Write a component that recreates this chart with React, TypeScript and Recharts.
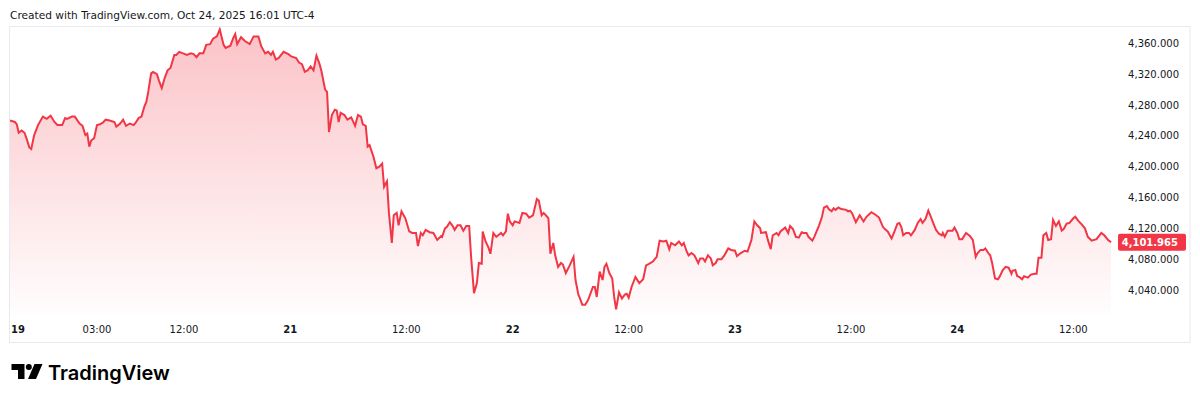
import React from 'react';
import { AreaChart, Area, XAxis, YAxis, ReferenceLine } from 'recharts';

// Trading time in hours since the Oct 19 18:00 session open (session gap collapsed)
const segAHours = [0, 0.5, 0.7, 0.9, 1.2, 1.5, 1.7, 2.0, 2.2, 2.5, 2.9, 3.4, 3.8, 4.2, 4.6, 4.9, 5.4, 5.7, 5.9, 6.4, 6.7, 7.2, 7.5, 7.8, 8.0, 8.2, 8.4, 8.7, 9.0, 9.3, 9.6, 9.9, 10.3, 10.8, 11.0, 11.4, 11.7, 12.0, 12.4, 12.8, 13.0, 13.3, 13.6, 13.9, 14.1, 14.3, 14.6, 14.8, 15.2, 15.4, 15.7, 16.0, 16.3, 16.6, 17.0, 17.2, 17.5, 17.9, 18.3, 18.7, 19.0, 19.3, 19.6, 20.0, 20.3, 20.7, 21.0, 21.4, 21.7];
const segAPrices = [4260, 4258, 4255, 4244, 4247, 4244, 4237, 4225, 4223, 4241, 4254, 4265, 4262, 4266, 4258, 4254, 4254, 4263, 4262, 4265, 4265, 4256, 4253, 4241, 4243, 4226, 4234, 4237, 4254, 4255, 4257, 4261, 4260, 4258, 4252, 4256, 4261, 4253, 4256, 4254, 4257, 4263, 4265, 4278, 4284, 4297, 4321, 4323, 4320, 4312, 4302, 4315, 4325, 4328, 4345, 4345, 4349, 4347, 4345, 4347, 4346, 4342, 4347, 4347, 4358, 4359, 4366, 4369, 4378];

const segBHours = [22.1, 22.3, 22.8, 23.1, 23.3, 23.5, 23.9, 24.3, 24.8, 25.2, 25.7, 26.0, 26.4, 26.7, 27.0, 27.2, 27.5, 27.8, 28.3, 28.8, 29.1, 29.6, 29.9, 30.2, 30.5, 30.8, 31.1, 31.4, 31.7, 32.0, 32.2, 32.6, 32.8, 33.0, 33.3, 33.6, 33.8, 34.0, 34.2, 34.6, 34.9, 35.3, 35.7, 36.0, 36.3, 36.5, 36.8, 37.0, 37.2, 37.6, 37.9, 38.2, 38.5, 38.7, 39.0, 39.2, 39.5, 39.7, 40.0, 40.2, 40.5, 40.9, 41.3, 41.6, 42.0, 42.2, 42.5, 42.7, 43.0, 43.4, 43.8, 44.2, 44.6];
const segBPrices = [4358, 4354, 4357, 4367, 4372, 4359, 4368, 4363, 4359, 4369, 4369, 4356, 4347, 4349, 4345, 4349, 4339, 4341, 4349, 4346, 4343, 4341, 4335, 4333, 4323, 4325, 4330, 4325, 4344, 4334, 4325, 4300, 4297, 4245, 4267, 4274, 4273, 4258, 4270, 4267, 4261, 4264, 4253, 4267, 4265, 4255, 4253, 4226, 4228, 4213, 4198, 4200, 4204, 4174, 4181, 4140, 4101, 4137, 4140, 4124, 4142, 4133, 4116, 4114, 4114, 4097, 4114, 4111, 4118, 4115, 4114, 4105, 4110];

const segCHours = [44.7, 45.0, 45.2, 45.5, 45.8, 46.0, 46.3, 46.6, 46.9, 47.2, 47.5, 47.7, 48.0, 48.3, 48.5, 48.8, 48.9, 49.2, 49.5, 49.7, 50.0, 50.3, 50.6, 50.8, 51.0, 51.3, 51.5, 51.7, 52.0, 52.2, 52.7, 53.0, 53.4, 53.7, 54.1, 54.2, 54.5, 54.7, 55.0, 55.2, 55.5, 55.7, 55.9, 56.2, 56.4, 56.7, 57.0, 57.2, 57.5, 57.9, 58.3, 58.5, 58.8, 58.9, 59.2, 59.5, 59.8, 60.3, 60.5, 60.7, 61.0, 61.3, 61.5, 61.7, 62.0, 62.3, 62.5, 62.7, 63.0, 63.3, 63.6, 63.8, 64.0, 64.3, 64.7, 65.1, 65.5, 65.8, 66.1, 66.5, 66.9, 67.2, 67.6, 67.9, 68.2];
const segCPrices = [4109, 4120, 4122, 4128, 4123, 4118, 4124, 4124, 4117, 4123, 4123, 4083, 4036, 4049, 4075, 4074, 4116, 4103, 4095, 4087, 4114, 4109, 4112, 4114, 4111, 4116, 4139, 4129, 4124, 4129, 4127, 4140, 4139, 4134, 4137, 4142, 4158, 4156, 4137, 4140, 4136, 4133, 4087, 4101, 4085, 4070, 4075, 4073, 4062, 4072, 4083, 4053, 4034, 4031, 4021, 4021, 4027, 4044, 4044, 4031, 4064, 4053, 4070, 4074, 4062, 4055, 4031, 4015, 4037, 4029, 4034, 4035, 4030, 4044, 4057, 4049, 4054, 4072, 4074, 4077, 4083, 4104, 4103, 4104, 4093];

const segDHours = [68.4, 68.8, 69.2, 69.5, 69.7, 70.0, 70.2, 70.5, 70.8, 71.2, 71.4, 71.7, 71.9, 72.2, 72.5, 72.7, 73.0, 73.2, 73.6, 73.9, 74.3, 74.6, 75.0, 75.2, 75.6, 76.0, 76.3, 76.7, 77.0, 77.3, 77.6, 77.7, 78.2, 78.4, 78.7, 78.9, 79.3, 79.5, 79.7, 80.0, 80.2, 80.5, 80.7, 81.0, 81.3, 81.6, 81.9, 82.1, 82.4, 82.6, 83.0, 83.2, 83.7, 84.0, 84.2, 84.5, 84.7, 85.0, 85.2, 85.4, 85.7, 86.0, 86.5, 86.7, 86.9, 87.1, 87.5, 87.9, 88.3, 88.6, 89.1, 89.5, 89.9];
const segDPrices = [4101, 4098, 4103, 4098, 4101, 4090, 4085, 4088, 4085, 4075, 4081, 4081, 4077, 4085, 4081, 4072, 4075, 4080, 4080, 4085, 4094, 4092, 4091, 4084, 4088, 4091, 4090, 4105, 4129, 4124, 4120, 4114, 4115, 4105, 4093, 4111, 4114, 4111, 4116, 4119, 4121, 4114, 4123, 4119, 4109, 4108, 4115, 4114, 4114, 4109, 4104, 4109, 4124, 4135, 4147, 4149, 4145, 4142, 4146, 4144, 4147, 4145, 4144, 4142, 4143, 4140, 4128, 4137, 4129, 4135, 4141, 4138, 4134];

const segEHours = [90.3, 90.5, 90.8, 91.2, 91.5, 91.8, 92.0, 92.2, 92.4, 92.7, 93.0, 93.2, 93.6, 93.9, 94.2, 94.4, 94.7, 95.0, 95.2, 95.5, 95.8, 96.1, 96.4, 96.5, 96.7, 97.0, 97.3, 97.5, 97.7, 98.0, 98.2, 98.5, 98.9, 99.3, 99.6, 99.9, 100.1, 100.4, 100.7, 100.9, 101.2, 101.4, 101.6, 101.9, 102.2, 102.4, 102.7, 103.0, 103.3, 103.6, 103.7, 104.0, 104.2, 104.4, 104.7, 104.9, 105.3, 105.6, 106.0, 106.2, 106.4, 106.7, 106.9, 107.2, 107.4, 107.7, 107.9, 108.2, 108.5, 108.8, 109.0, 109.3, 109.6, 110.0, 110.2, 110.5, 110.8, 111.2, 111.5, 111.9, 112.4, 112.9, 113.2, 113.6, 113.9];
const segEPrices = [4122, 4119, 4116, 4107, 4116, 4126, 4127, 4122, 4111, 4114, 4114, 4111, 4118, 4127, 4132, 4127, 4132, 4143, 4137, 4127, 4118, 4113, 4111, 4114, 4109, 4117, 4117, 4117, 4121, 4114, 4106, 4106, 4114, 4110, 4105, 4083, 4088, 4092, 4092, 4094, 4088, 4085, 4075, 4055, 4054, 4058, 4066, 4070, 4069, 4061, 4065, 4066, 4058, 4057, 4054, 4058, 4056, 4060, 4061, 4061, 4082, 4082, 4111, 4114, 4105, 4106, 4131, 4123, 4129, 4117, 4119, 4126, 4127, 4133, 4135, 4130, 4126, 4120, 4109, 4104, 4106, 4114, 4111, 4105, 4101.965];

const timeTicks = [0, 9, 18, 29, 41, 52, 64, 75, 87, 98, 110];
const timeTickLabels = ['19', '03:00', '12:00', '21', '12:00', '22', '12:00', '23', '12:00', '24', '12:00'];
const dayTickLabels = ['19', '21', '22', '23', '24'];
const priceTicks = [4040, 4080, 4120, 4160, 4200, 4240, 4280, 4320, 4360];
const lastPrice = 4101.965;
const titleText = 'Created with TradingView.com, Oct 24, 2025 16:01 UTC-4';
const brandText = 'TradingView';

const allHours = [...segAHours, ...segBHours, ...segCHours, ...segDHours, ...segEHours];
const allPrices = [...segAPrices, ...segBPrices, ...segCPrices, ...segDPrices, ...segEPrices];
const data = allHours
  .map((h, i) => ({ h, p: allPrices[i] }))
  .filter((d) => d.p !== undefined);

const FONT = '"DejaVu Sans", Verdana, sans-serif';
const TEXT = '#131722';
const RED = '#f23645';

const fmtPrice = (v: number) =>
  v.toLocaleString('en-US', { minimumFractionDigits: 3, maximumFractionDigits: 3 });

function XTick(props: any) {
  const { x, y, payload } = props;
  const i = timeTicks.indexOf(payload.value);
  const label = timeTickLabels[i] ?? '';
  const isDay = dayTickLabels.includes(label);
  return (
    <text
      x={i === 0 ? x + 1 : x}
      y={y}
      dy={18}
      textAnchor={i === 0 ? 'start' : 'middle'}
      fontFamily={FONT}
      fontSize={10}
      fontWeight={isDay ? 700 : 400}
      fill={TEXT}
    >
      {label}
    </text>
  );
}

function YTick(props: any) {
  const { x, y, payload } = props;
  return (
    <text x={x + 67} y={y} dy={3.6} textAnchor="end" fontFamily={FONT} fontSize={10} fill={TEXT}>
      {fmtPrice(payload.value)}
    </text>
  );
}

function PriceLabel(props: any) {
  const { viewBox } = props;
  if (!viewBox) return null;
  const right = viewBox.x + viewBox.width;
  const cy = viewBox.y;
  return (
    <g>
      <rect x={right + 6} y={cy - 8.5} width={68} height={17} rx={2} fill={RED} />
      <text
        x={right + 66}
        y={cy}
        dy={3.8}
        textAnchor="end"
        fontFamily={FONT}
        fontSize={10}
        fontWeight={700}
        fill="#ffffff"
      >
        {fmtPrice(lastPrice)}
      </text>
    </g>
  );
}

export default function App() {
  return (
    <div style={{ position: 'absolute', left: 0, top: 0, width: 1200, height: 401, background: '#ffffff' }}>
      <style>{`body{margin:0;background:#fff}`}</style>
      <AreaChart
        width={1200}
        height={401}
        data={data}
        margin={{ top: 27, right: 10, bottom: 58, left: 10 }}
      >
        <defs>
          <linearGradient id="redFill" x1="0" y1="0" x2="0" y2="1">
            <stop offset="0%" stopColor={RED} stopOpacity={0.3} />
            <stop offset="100%" stopColor={RED} stopOpacity={0.01} />
          </linearGradient>
        </defs>
        <XAxis
          dataKey="h"
          type="number"
          domain={[0, 114]}
          ticks={timeTicks}
          interval={0}
          allowDataOverflow
          axisLine={false}
          tickLine={false}
          tickSize={0}
          tickMargin={0}
          height={28}
          tick={<XTick />}
        />
        <YAxis
          orientation="right"
          type="number"
          domain={[4007.6, 4381.2]}
          ticks={priceTicks}
          interval={0}
          allowDataOverflow
          axisLine={false}
          tickLine={false}
          tickSize={0}
          tickMargin={0}
          width={78}
          tick={<YTick />}
        />
        <Area
          type="linear"
          dataKey="p"
          stroke={RED}
          strokeWidth={2}
          fill="url(#redFill)"
          fillOpacity={1}
          dot={false}
          activeDot={false}
          isAnimationActive={false}
        />
        <ReferenceLine y={lastPrice} stroke="none" label={<PriceLabel />} />
      </AreaChart>
      <svg
        width={1200}
        height={401}
        style={{ position: 'absolute', left: 0, top: 0, pointerEvents: 'none' }}
      >
        <text x={10} y={19} fontFamily={FONT} fontSize={10.6} fill={TEXT}>
          {titleText}
        </text>
        <rect x={9.5} y={26.5} width={1180.5} height={316} fill="none" stroke="#e6e9ef" strokeWidth={1} />
        <g transform="translate(11.5,364)" fill="#000000">
          <path d="M0 0 H13 V15 H6.5 V6 H0 Z" />
          <circle cx={17.3} cy={3} r={3} />
          <path d="M23 0 H31 L24.5 15 H16.5 Z" />
        </g>
        <text x={48} y={379.5} fontFamily="Inter, Roboto, sans-serif" fontSize={20} fontWeight={600} fill="#000000">
          {brandText}
        </text>
      </svg>
    </div>
  );
}
